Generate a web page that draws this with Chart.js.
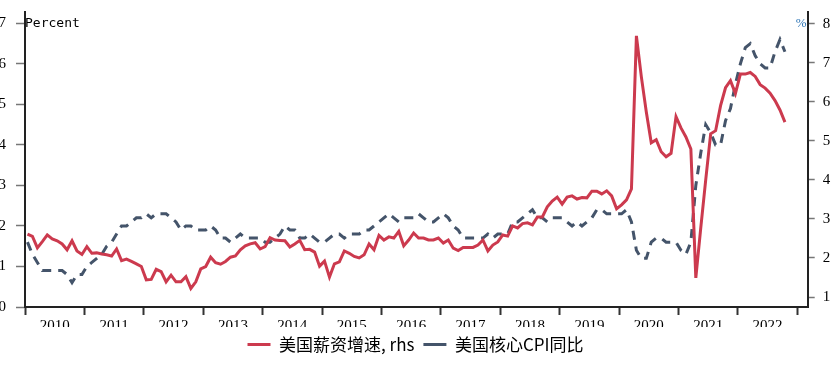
<!DOCTYPE html>
<html><head><meta charset="utf-8">
<script src="https://cdn.jsdelivr.net/npm/chart.js@4.4.0/dist/chart.umd.min.js"></script>
<style>html,body{margin:0;padding:0;background:#fff;overflow:hidden}#wrap{width:831px;height:377px;position:relative}</style>
</head><body><div id="wrap"><canvas id="c"></canvas></div>
<script>
// Tick labels
const years = ['2010','2011','2012','2013','2014','2015','2016','2017','2018','2019','2020','2021','2022'];
const leftTicks = [0,1,2,3,4,5,6,7];
const rightTicks = [1,2,3,4,5,6,7,8];

// Series names
const wageName = '美国薪资增速, rhs';
const cpiName = '美国核心CPI同比';

// 美国薪资增速 (right axis, %), monthly Jan 2010 - Oct 2022
const wageGrowth = [
2.61,2.55,2.26,2.42,2.59,2.49,2.44,2.36,2.21,2.44,2.18,2.09,
2.29,2.12,2.13,2.10,2.08,2.05,2.23,1.93,1.97,1.91,1.85,1.78,
1.44,1.45,1.71,1.65,1.39,1.56,1.39,1.39,1.52,1.22,1.39,1.72,
1.78,2.02,1.88,1.84,1.91,2.02,2.05,2.21,2.31,2.36,2.39,2.23,
2.29,2.52,2.46,2.45,2.44,2.28,2.36,2.45,2.21,2.22,2.15,1.79,
1.92,1.51,1.85,1.90,2.18,2.12,2.04,2.00,2.08,2.36,2.21,2.58,
2.46,2.54,2.51,2.68,2.31,2.46,2.64,2.51,2.51,2.46,2.46,2.51,
2.38,2.46,2.25,2.19,2.27,2.27,2.27,2.33,2.46,2.18,2.33,2.41,
2.59,2.56,2.82,2.77,2.88,2.90,2.85,3.05,3.05,3.31,3.46,3.56,
3.38,3.56,3.59,3.51,3.55,3.54,3.71,3.71,3.64,3.72,3.59,3.26,
3.36,3.49,3.77,7.69,6.64,5.74,4.95,5.03,4.72,4.59,4.68,5.62,
5.33,5.10,4.79,1.49,2.77,4.00,5.18,5.26,5.90,6.36,6.54,6.21,
6.71,6.71,6.75,6.65,6.44,6.35,6.22,6.03,5.79,5.48
];

// 美国核心CPI同比 (left axis, %), monthly Jan 2010 - Oct 2022
const coreCPI = [
1.6,1.3,1.1,0.9,0.9,0.9,0.9,0.9,0.8,0.6,0.8,0.8,
1.0,1.1,1.2,1.3,1.5,1.6,1.8,2.0,2.0,2.1,2.2,2.2,
2.3,2.2,2.3,2.3,2.3,2.2,2.1,1.9,2.0,2.0,1.9,1.9,
1.9,2.0,1.9,1.7,1.7,1.6,1.7,1.8,1.7,1.7,1.7,1.7,
1.6,1.6,1.7,1.8,2.0,1.9,1.9,1.7,1.7,1.8,1.7,1.6,
1.6,1.7,1.8,1.8,1.7,1.8,1.8,1.8,1.9,1.9,2.0,2.1,
2.2,2.3,2.2,2.1,2.2,2.2,2.2,2.3,2.2,2.1,2.1,2.2,
2.3,2.2,2.0,1.9,1.7,1.7,1.7,1.7,1.7,1.8,1.7,1.8,
1.8,1.8,2.1,2.1,2.2,2.3,2.4,2.2,2.2,2.1,2.2,2.2,
2.2,2.1,2.0,2.1,2.0,2.1,2.2,2.4,2.4,2.3,2.3,2.3,
2.3,2.4,2.1,1.4,1.2,1.2,1.6,1.7,1.7,1.6,1.6,1.6,
1.4,1.3,1.6,3.0,3.8,4.5,4.3,4.0,4.0,4.6,4.9,5.5,
6.0,6.4,6.5,6.2,6.0,5.9,5.9,6.3,6.6,6.3
];

const toPoints = arr => arr.map((v, i) => ({ x: i + 0.5, y: v }));

const serif = { family: '"Liberation Serif", "Times New Roman", serif', size: 15 };

const annot = {
  id: 'annot',
  afterDraw(chart) {
    const { ctx, chartArea } = chart;
    ctx.save();
    ctx.font = '13px "DejaVu Sans Mono", monospace';
    ctx.fillStyle = '#000';
    ctx.textAlign = 'left';
    ctx.textBaseline = 'alphabetic';
    ctx.fillText('Percent', chartArea.left, chartArea.top + 14.7);
    ctx.font = '13px "Liberation Serif", serif';
    ctx.fillStyle = '#2E75B6';
    ctx.textAlign = 'right';
    ctx.fillText('%', chartArea.right - 1, chartArea.top + 14.7);
    ctx.restore();
  }
};

new Chart(document.getElementById('c'), {
  type: 'line',
  data: {
    datasets: [
      { label: wageName, data: toPoints(wageGrowth), yAxisID: 'y1',
        borderColor: '#CC3A4E', backgroundColor: '#CC3A4E', borderWidth: 3,
        pointRadius: 0, tension: 0, fill: false },
      { label: cpiName, data: toPoints(coreCPI), yAxisID: 'y',
        borderColor: '#44546A', backgroundColor: '#44546A', borderWidth: 3,
        borderDash: [9, 7], pointRadius: 0, tension: 0, fill: false }
    ]
  },
  options: {
    responsive: true, maintainAspectRatio: false, animation: false, devicePixelRatio: 1,
    layout: { padding: { top: 12, left: 0, right: 0, bottom: 14 } },
    plugins: {
      tooltip: { enabled: false },
      legend: {
        position: 'bottom',
        labels: {
          usePointStyle: true, pointStyle: 'line', pointStyleWidth: 23,
          padding: 9, color: '#000',
          font: { family: '"Noto Sans CJK SC", sans-serif', size: 17 }
        }
      }
    },
    scales: {
      x: {
        type: 'linear', position: 'bottom', min: 0, max: 158.1,
        border: { display: true, color: '#222', width: 2 },
        grid: { drawOnChartArea: false, tickLength: 8, tickWidth: 2,
          tickColor: c => (c.tick && c.tick.value % 12 === 0) ? '#333' : 'rgba(0,0,0,0)' },
        ticks: { padding: 2, autoSkip: false, maxRotation: 0, minRotation: 0, color: '#000', font: serif,
          callback: v => (v % 12 === 6) ? years[(v - 6) / 12] : '' },
        afterBuildTicks: s => {
          const t = [];
          for (let k = 0; k <= years.length; k++) {
            t.push({ value: 12 * k });
            if (k < years.length) t.push({ value: 12 * k + 6 });
          }
          s.ticks = t;
        },
        afterFit: s => { s.height = 20; s.paddingLeft = 0; s.paddingRight = 0; }
      },
      y: {
        type: 'linear', position: 'left', min: 0, max: 7.28,
        border: { display: true, color: '#222', width: 2 },
        grid: { drawOnChartArea: false, tickLength: 9, tickWidth: 1.5, tickColor: '#777' },
        ticks: { padding: 10, color: '#000', font: serif },
        afterBuildTicks: s => { s.ticks = leftTicks.map(v => ({ value: v })); },
        afterFit: s => { s.width = 25; s.paddingTop = 0; s.paddingBottom = 0; }
      },
      y1: {
        type: 'linear', position: 'right', min: 0.744, max: 8.30,
        border: { display: true, color: '#222', width: 2 },
        grid: { drawOnChartArea: false, tickLength: 7, tickWidth: 1.5, tickColor: '#777' },
        ticks: { padding: 8, color: '#000', font: serif },
        afterBuildTicks: s => { s.ticks = rightTicks.map(v => ({ value: v })); },
        afterFit: s => { s.width = 23.3; s.paddingTop = 0; s.paddingBottom = 0; }
      }
    }
  },
  plugins: [annot]
});
</script></body></html>
